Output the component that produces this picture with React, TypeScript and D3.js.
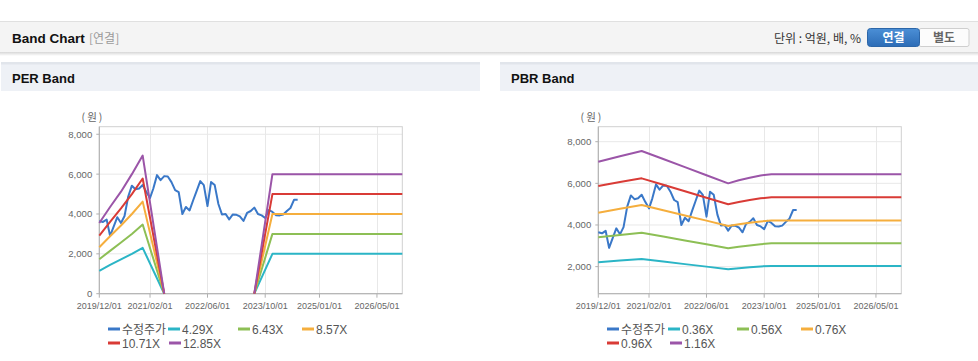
import React from 'react';
import * as d3 from 'd3';

// ---------- data ----------
const PRICE_START = '2019-12-01';
const PRICE_END = '2024-07-01';
const PRICE = [3650, 3600, 3720, 2900, 3380, 3840, 3550, 3900, 4880, 5420, 5240, 5280, 5450, 5100, 4800, 5280, 5950, 5700, 5900, 5880, 5600, 5200, 5100, 4000, 4350, 4180, 4700, 5150, 5650, 5450, 4400, 5600, 5450, 4500, 3980, 4000, 3730, 3980, 3960, 3880, 3650, 4050, 4150, 4320, 4000, 3930, 3800, 4200, 4100, 3940, 3930, 3970, 4150, 4300, 4720, 4720];

const PER_DATES = ['2019-12-01', '2020-03-01', '2020-06-01', '2020-09-01', '2020-12-01', '2021-06-01', '2022-06-01', '2023-07-01', '2023-12-01', '2026-12-01'];
const PER_LABELS = ['4.29X', '6.43X', '8.57X', '10.71X', '12.85X'];
const PER_429 = [1150, 1450, 1720, 2000, 2300, 0, null, 0, 2000, 2000];
const PER_643 = [1730, 2150, 2570, 3000, 3470, 0, null, 0, 3000, 3000];
const PER_857 = [2330, 2880, 3420, 4000, 4620, 0, null, 0, 4000, 4000];
const PER_1071 = [2920, 3600, 4280, 5000, 5780, 0, null, 0, 5000, 5000];
const PER_1285 = [3550, 4350, 5120, 6000, 6930, 0, null, 0, 6000, 6000];

const PBR_DATES = ['2019-12-01', '2020-06-01', '2020-12-01', '2021-06-01', '2021-12-01', '2022-06-01', '2022-12-01', '2023-03-01', '2023-06-01', '2023-09-01', '2023-12-01', '2026-12-01'];
const PBR_LABELS = ['0.36X', '0.56X', '0.76X', '0.96X', '1.16X'];
const PBR_036 = [2210, 2290, 2370, 2250, 2120, 2000, 1875, 1920, 1970, 2010, 2033, 2033];
const PBR_056 = [3410, 3520, 3630, 3445, 3260, 3070, 2885, 2960, 3020, 3080, 3120, 3120];
const PBR_076 = [4590, 4780, 4960, 4710, 4460, 4210, 3955, 4040, 4110, 4170, 4210, 4210];
const PBR_096 = [5875, 6060, 6240, 5930, 5620, 5310, 4995, 5100, 5200, 5280, 5330, 5330];
const PBR_116 = [7040, 7300, 7550, 7170, 6780, 6390, 6000, 6150, 6270, 6380, 6440, 6440];

const X_TICKS = ['2019-12-01', '2021-02-01', '2022-06-01', '2023-10-01', '2025-01-01', '2026-05-01'];
const X_DOMAIN = ['2019-12-01', '2026-12-01'];
const PER_Y_DOMAIN = [0, 8380];
const PER_Y_TICKS = [0, 2000, 4000, 6000, 8000];
const PBR_Y_DOMAIN = [700, 8720];
const PBR_Y_TICKS = [2000, 4000, 6000, 8000];

const PRICE_LABEL = '수정주가';
const COLORS = ['#3a78c8', '#2bb5c6', '#8dbf55', '#f5ae3d', '#d93b36', '#9b55a8'];

// ---------- helpers ----------
const parse = d3.timeParse('%Y-%m-%d');
const fmtTick = d3.timeFormat('%Y/%m/%d');
const fmtNum = d3.format(',');
const SANS = "'Liberation Sans', Arial, 'Noto Sans CJK KR', sans-serif";
const KR = "'Noto Sans CJK KR', sans-serif";

type Pt = { d: Date; v: number | null };

function Panel(props: {
  ox: number;
  title: string;
  bands: (number | null)[][];
  bandDates: string[];
  labels: string[];
  yDomain: number[];
  yTicks: number[];
  legendX: number[];
}) {
  const { ox, title, bands, bandDates, labels, yDomain, yTicks, legendX } = props;
  const left = ox + 99.3;
  const right = ox + 402.3;
  const top = 126.7;
  const bottom = 293.7;
  const x = d3.scaleTime().domain(X_DOMAIN.map((s) => parse(s) as Date)).range([left, right]);
  const y = d3.scaleLinear().domain(yDomain).range([bottom, top]);
  const line = d3
    .line<Pt>()
    .defined((p) => p.v !== null)
    .x((p) => x(p.d))
    .y((p) => y(p.v as number));

  const priceDates = d3.timeMonth.range(parse(PRICE_START) as Date, d3.timeMonth.offset(parse(PRICE_END) as Date, 1));
  const pricePts: Pt[] = PRICE.map((v, i) => ({ d: priceDates[i], v }));
  const bDates = bandDates.map((s) => parse(s) as Date);

  const legendItems = [PRICE_LABEL, ...labels];
  const legendRowY = [329, 343];

  return (
    <g>
      {/* panel header */}
      <rect x={ox + 1} y={62} width={479} height={29} fill="#eef1f6" />
      <rect x={ox + 1} y={62} width={479} height={2.5} fill="#e1e5eb" />
      <text x={ox + 12} y={82.5} fontFamily={SANS} fontWeight={700} fontSize={13} fill="#111">
        {title}
      </text>

      {/* grid */}
      {yTicks.map((t) => (
        <line key={'gy' + t} x1={left} x2={right} y1={y(t)} y2={y(t)} stroke="#e8e8e8" strokeWidth={1} />
      ))}
      {X_TICKS.map((t) => {
        const xx = Math.round(x(parse(t) as Date)) + 0.5;
        return <line key={'gx' + t} x1={xx} x2={xx} y1={top} y2={bottom} stroke="#e8e8e8" strokeWidth={1} />;
      })}
      <rect x={left} y={top} width={right - left} height={bottom - top} fill="none" stroke="#d0d0d0" strokeWidth={1} />
      <line x1={left} x2={left} y1={top} y2={bottom} stroke="#b0b0b0" strokeWidth={1} />
      <line x1={left} x2={right} y1={bottom} y2={bottom} stroke="#b0b0b0" strokeWidth={1} />

      {/* y axis labels */}
      <text x={ox + 93} y={120.5} textAnchor="middle" fontFamily={KR} fontSize={10.5} letterSpacing={2} fill="#666">
        (원)
      </text>
      {yTicks.map((t) => (
        <g key={'yt' + t}>
          <line x1={left - 3} x2={left} y1={y(t)} y2={y(t)} stroke="#b0b0b0" />
          <text x={left - 7} y={y(t) + 3.5} textAnchor="end" fontFamily={SANS} fontSize={9.6} fill="#666">
            {fmtNum(t)}
          </text>
        </g>
      ))}
      {/* x axis labels */}
      {X_TICKS.map((t) => {
        const xx = x(parse(t) as Date);
        return (
          <g key={'xt' + t}>
            <line x1={xx} x2={xx} y1={bottom} y2={bottom + 4} stroke="#b0b0b0" />
            <text x={xx} y={309} textAnchor="middle" fontFamily={SANS} fontSize={9} fill="#666">
              {fmtTick(parse(t) as Date)}
            </text>
          </g>
        );
      })}

      {/* series */}
      <path d={line(pricePts) || ''} fill="none" stroke={COLORS[0]} strokeWidth={2} strokeLinejoin="round" />
      {bands.map((vals, i) => (
        <path
          key={'b' + i}
          d={line(vals.map((v, j) => ({ d: bDates[j], v }))) || ''}
          fill="none"
          stroke={COLORS[i + 1]}
          strokeWidth={2}
          strokeLinejoin="round"
        />
      ))}

      {/* legend */}
      {legendItems.map((lab, i) => {
        const lx = ox + legendX[i];
        const ly = legendRowY[i < 4 ? 0 : 1];
        return (
          <g key={'lg' + i}>
            <line x1={lx} x2={lx + 12} y1={ly} y2={ly} stroke={COLORS[i]} strokeWidth={3} />
            <text x={lx + 14} y={ly + 4.5} fontFamily={SANS} fontSize={12} fill="#555">
              {lab}
            </text>
          </g>
        );
      })}
    </g>
  );
}

export default function App() {
  return (
    <svg width={978} height={361} style={{ position: 'absolute', left: 0, top: 0, background: '#fff' }}>
      <defs>
        <linearGradient id="hdrShadow" x1="0" y1="0" x2="0" y2="1">
          <stop offset="0" stopColor="#000" stopOpacity={0.16} />
          <stop offset="1" stopColor="#000" stopOpacity={0} />
        </linearGradient>
        <linearGradient id="btnBlue" x1="0" y1="0" x2="0" y2="1">
          <stop offset="0" stopColor="#4b8fd6" />
          <stop offset="1" stopColor="#2c6cb6" />
        </linearGradient>
      </defs>

      {/* top header */}
      <rect x={0} y={21} width={978} height={31} fill="#f4f4f4" />
      <line x1={0} x2={978} y1={21.5} y2={21.5} stroke="#e0e0e0" />
      <rect x={0} y={52} width={978} height={4} fill="url(#hdrShadow)" />
      <text x={12} y={43} fontFamily={SANS} fontWeight={700} fontSize={13.5} fill="#111">
        Band Chart
      </text>
      <text x={89} y={43} fontFamily={KR} fontSize={12} fill="#9a9a9a">
        [연결]
      </text>
      <text x={861} y={42.5} textAnchor="end" fontFamily={KR} fontSize={12} fill="#333">
        단위 : 억원, 배, %
      </text>
      <rect x={919} y={28.5} width={50} height={18} rx={2} fill="#fcfcfc" stroke="#cfcfcf" />
      <rect x={867.5} y={28.5} width={52} height={18} rx={3} fill="url(#btnBlue)" stroke="#2c66a8" />
      <text x={893.5} y={42} textAnchor="middle" fontFamily={KR} fontWeight={700} fontSize={12} fill="#fff">
        연결
      </text>
      <text x={944} y={42} textAnchor="middle" fontFamily={KR} fontWeight={700} fontSize={12} fill="#666">
        별도
      </text>

      <Panel
        ox={0}
        title="PER Band"
        bands={[PER_429, PER_643, PER_857, PER_1071, PER_1285]}
        bandDates={PER_DATES}
        labels={PER_LABELS}
        yDomain={PER_Y_DOMAIN}
        yTicks={PER_Y_TICKS}
        legendX={[108, 168, 238, 302, 108, 169]}
      />
      <Panel
        ox={499}
        title="PBR Band"
        bands={[PBR_036, PBR_056, PBR_076, PBR_096, PBR_116]}
        bandDates={PBR_DATES}
        labels={PBR_LABELS}
        yDomain={PBR_Y_DOMAIN}
        yTicks={PBR_Y_TICKS}
        legendX={[108, 169, 238, 302, 108, 171]}
      />
    </svg>
  );
}
